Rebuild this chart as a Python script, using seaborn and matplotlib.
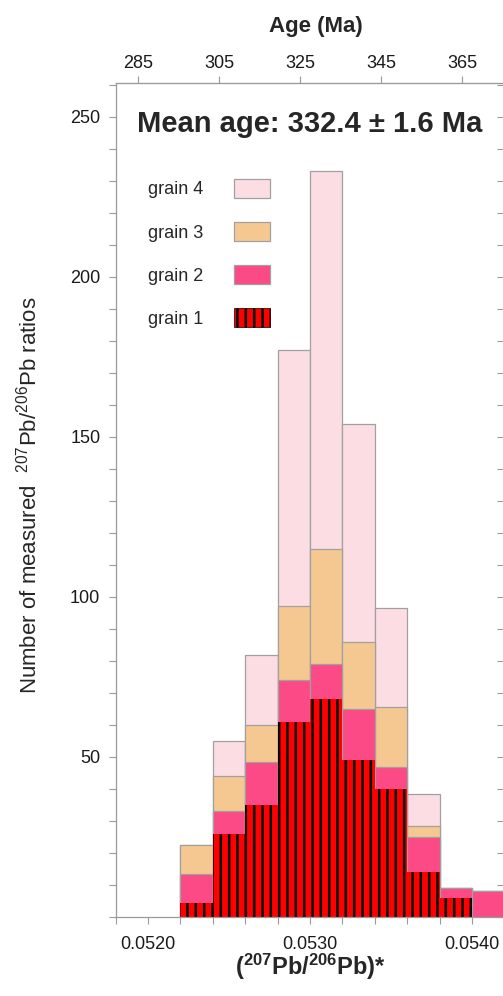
import numpy as np
import pandas as pd
import matplotlib
matplotlib.use("Agg")
import matplotlib.pyplot as plt
from matplotlib.patches import Patch
from matplotlib.ticker import MultipleLocator, FixedLocator, FormatStrFormatter
import seaborn as sns

# ---------------- data ----------------
bin_left = [0.0522, 0.0524, 0.0526, 0.0528, 0.0530, 0.0532, 0.0534, 0.0536, 0.0538, 0.0540]
bin_width = 0.0002
grain1 = [4.5, 26, 35, 61, 68, 49, 40, 14, 6, 0]
grain2 = [9, 7, 13.5, 13, 11, 16, 7, 11, 3, 8]
grain3 = [9, 11, 11.5, 23, 36, 21, 18.5, 3.5, 0, 0]
grain4 = [0, 11, 22, 80, 118, 68, 31, 10, 0, 0]
grain_labels = ["grain 1", "grain 2", "grain 3", "grain 4"]
grain_colors = ["#ff0000", "#fb4a86", "#f6c891", "#fcdde3"]
age_ticks = [285, 305, 325, 345, 365]
age_ref, ratio_ref, ratio_per_ma = 325, 0.05294, 0.000025
x_major = [0.0520, 0.0530, 0.0540]
y_major = [50, 100, 150, 200, 250]
title_text = "Mean age: 332.4 ± 1.6 Ma"

# ---------------- style ----------------
sns.set_style("ticks")
plt.rcParams["font.family"] = ["Liberation Sans", "DejaVu Sans"]
plt.rcParams["mathtext.fontset"] = "custom"
plt.rcParams["mathtext.rm"] = "Liberation Sans"
plt.rcParams["mathtext.bf"] = "Liberation Sans:bold"
plt.rcParams["mathtext.it"] = "Liberation Sans:italic"
plt.rcParams["hatch.linewidth"] = 1.8

spine_col = "#9a9a9a"
edge_col = "#a0a0a0"

fig = plt.figure(figsize=(5.03, 9.96), dpi=100)
ax = fig.add_axes([0.2298, 0.0793, 0.7730, 0.8373])

df = pd.DataFrame({"left": bin_left, "g1": grain1, "g2": grain2, "g3": grain3, "g4": grain4})
df["center"] = df["left"] + bin_width / 2
df["c1"] = df["g1"]
df["c2"] = df["c1"] + df["g2"]
df["c3"] = df["c2"] + df["g3"]
df["c4"] = df["c3"] + df["g4"]
edges = list(df["left"]) + [bin_left[-1] + bin_width]

# stacked look: draw cumulative totals from top layer down
for col, color in zip(["c4", "c3", "c2"], grain_colors[::-1][:3]):
    sns.histplot(data=df, x="center", weights=col, bins=edges, ax=ax,
                 color=color, edgecolor=edge_col, linewidth=0.9, alpha=1)
sns.histplot(data=df, x="center", weights="c1", bins=edges, ax=ax,
             color=grain_colors[0], edgecolor="black", linewidth=0, alpha=1,
             hatch="||")

# ---------------- axes ----------------
ax.set_xlim(0.0518, 0.0542)
ax.set_ylim(0, 260.5)
ax.xaxis.set_major_locator(FixedLocator(x_major))
ax.xaxis.set_major_formatter(FormatStrFormatter("%.4f"))
ax.xaxis.set_minor_locator(MultipleLocator(bin_width))
ax.yaxis.set_major_locator(FixedLocator(y_major))
ax.yaxis.set_minor_locator(MultipleLocator(10))
ax.tick_params(axis="both", which="both", direction="out", length=5, width=0.8,
               color=spine_col, labelsize=13, labelcolor="#1a1a1a")
ax.tick_params(axis="x", which="both", pad=9, top=False)
ax.tick_params(axis="y", which="both", pad=6, right=False)
for s in ax.spines.values():
    s.set_color(spine_col)
    s.set_linewidth(0.9)

ax.set_xlabel(r"($^{\mathbf{207}}$Pb/$^{\mathbf{206}}$Pb)*", fontsize=17,
              fontweight="bold")
ax.xaxis.set_label_coords(0.5, -0.042)
ax.set_ylabel(r"Number of measured  $^{207}$Pb/$^{206}$Pb ratios", fontsize=16)
ax.yaxis.set_label_coords(-0.190, 0.506)

# right-side inward ticks
secy = ax.secondary_yaxis("right")
secy.yaxis.set_major_locator(MultipleLocator(10))
secy.tick_params(direction="in", length=5, width=0.8, color=spine_col,
                 labelright=False)
secy.spines["right"].set_color(spine_col)

# top age axis
def ratio_to_age(r):
    return age_ref + (np.asarray(r) - ratio_ref) / ratio_per_ma

def age_to_ratio(a):
    return ratio_ref + (np.asarray(a) - age_ref) * ratio_per_ma

secx = ax.secondary_xaxis("top", functions=(ratio_to_age, age_to_ratio))
secx.set_xticks(age_ticks)
secx.xaxis.set_minor_locator(FixedLocator([]))
secx.tick_params(direction="out", length=5, width=0.8, color=spine_col,
                 labelsize=13, labelcolor="#1a1a1a", pad=3)
secx.spines["top"].set_color(spine_col)
secx.set_xlabel("Age (Ma)", fontsize=16, fontweight="bold")
secx.xaxis.set_label_coords(0.515, 1.061, transform=ax.transAxes)

# title inside plot
ax.text(0.5, 0.951, title_text, transform=ax.transAxes, ha="center",
        va="center", fontsize=21, fontweight="bold")

# legend
handles = []
for lab, col in zip(grain_labels[::-1], grain_colors[::-1]):
    if lab == "grain 1":
        handles.append(Patch(facecolor=col, edgecolor="black", hatch="||",
                             linewidth=0.5, label=lab))
    else:
        handles.append(Patch(facecolor=col, edgecolor=edge_col, linewidth=0.9,
                             label=lab))
ax.legend(handles=handles, loc="upper left", bbox_to_anchor=(0.083, 0.885),
          frameon=False, markerfirst=False, fontsize=13, handlelength=2.0,
          handleheight=1.22, handletextpad=1.7, labelspacing=1.31,
          borderpad=0, borderaxespad=0)

fig.savefig("out.png", dpi=100)
